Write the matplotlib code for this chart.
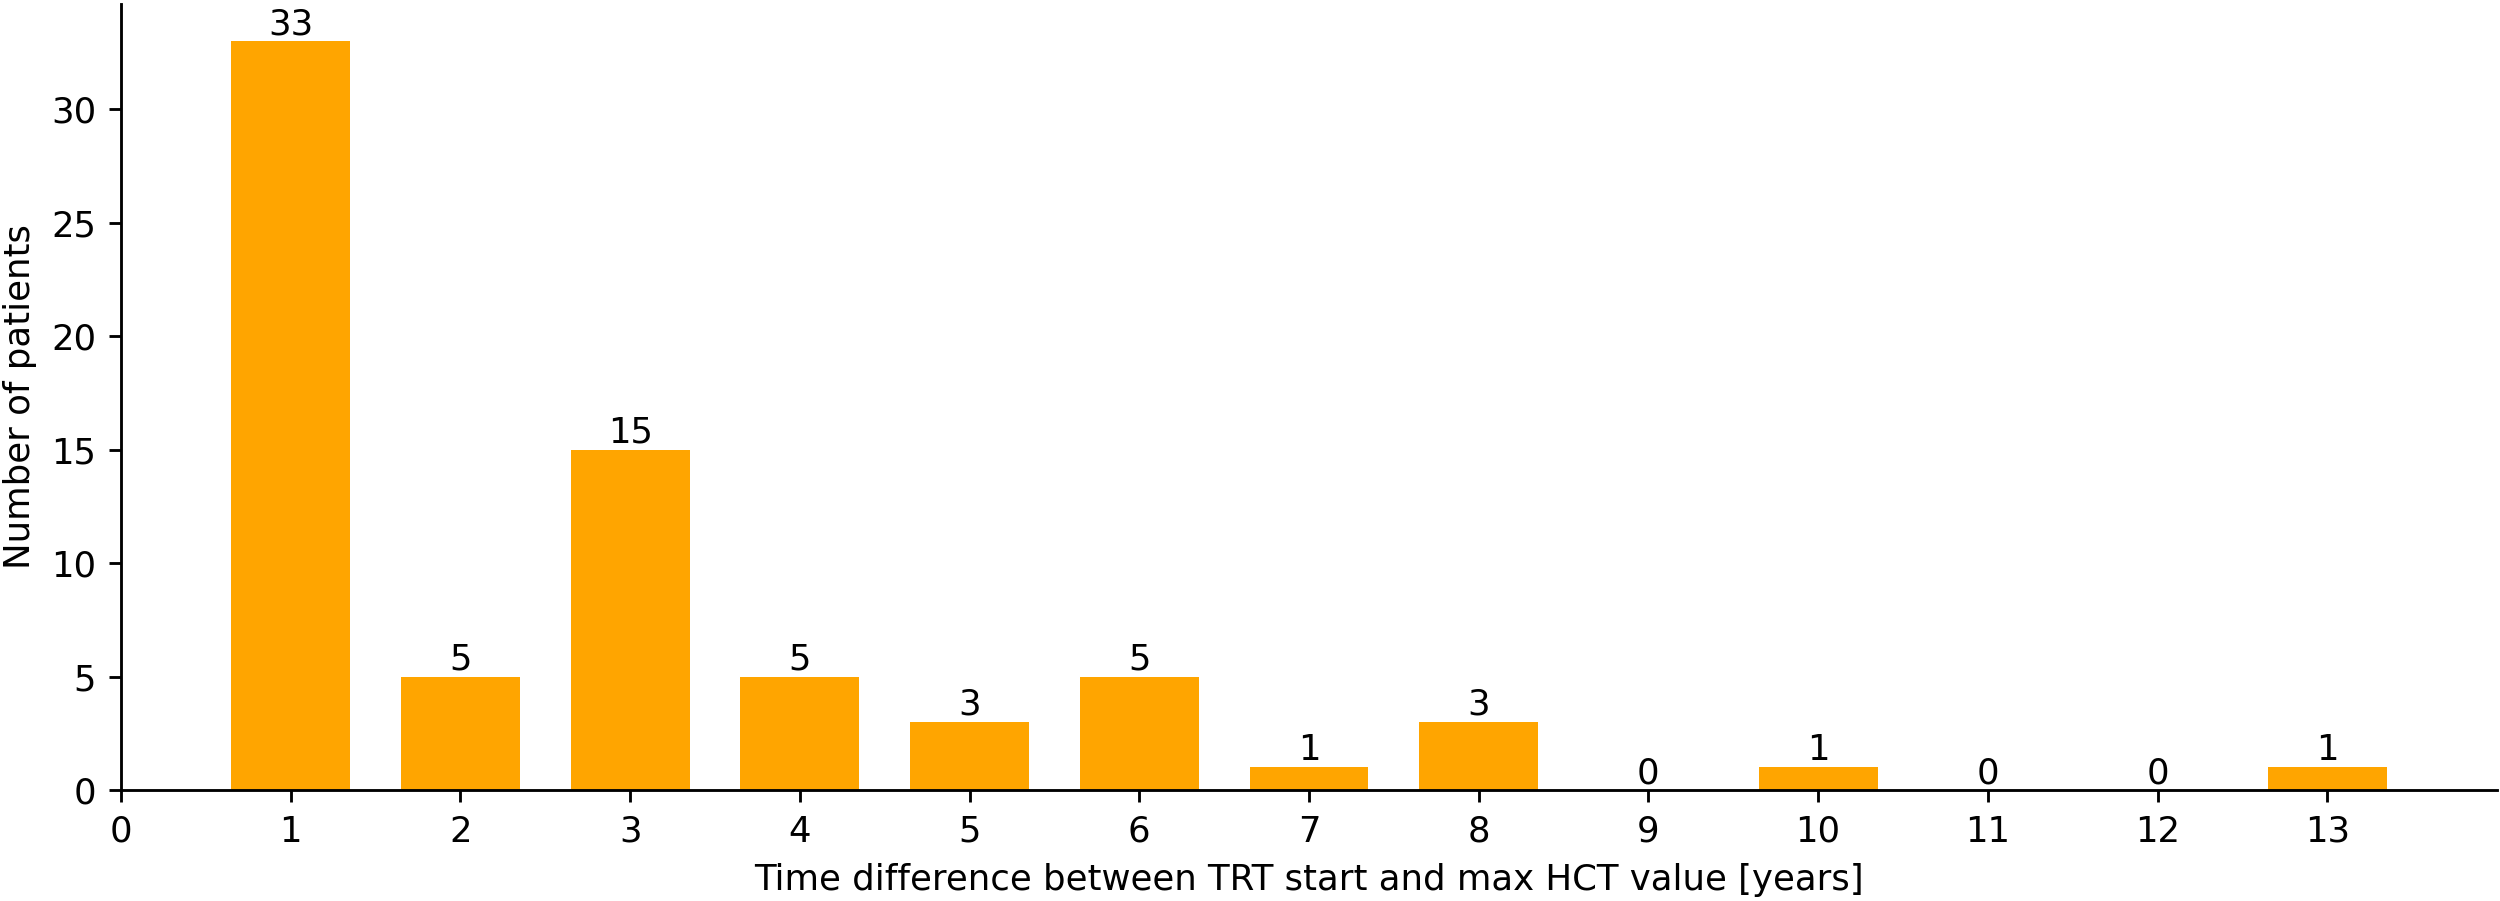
import matplotlib
matplotlib.use("Agg")
import matplotlib.pyplot as plt

# years since TRT start -> number of patients
years = [1, 2, 3, 4, 5, 6, 7, 8, 9, 10, 11, 12, 13]
patients = [33, 5, 15, 5, 3, 5, 1, 3, 0, 1, 0, 0, 1]

dpi = 256
fig = plt.figure(figsize=(2500 / dpi, 901 / dpi), dpi=dpi)
ax = fig.add_axes([121 / 2500, 111 / 901, (2497 - 121) / 2500, (787 - 1) / 901])

bars = ax.bar(years, patients, width=0.7, color='orange')
ax.bar_label(bars)

ax.set_xlim(0, 14)
ax.set_xticks(range(0, 14))
ax.set_xlabel('Time difference between TRT start and max HCT value [years]')
ax.set_ylabel('Number of patients')
ax.spines['top'].set_visible(False)
ax.spines['right'].set_visible(False)

fig.savefig('out.png', dpi=dpi)
